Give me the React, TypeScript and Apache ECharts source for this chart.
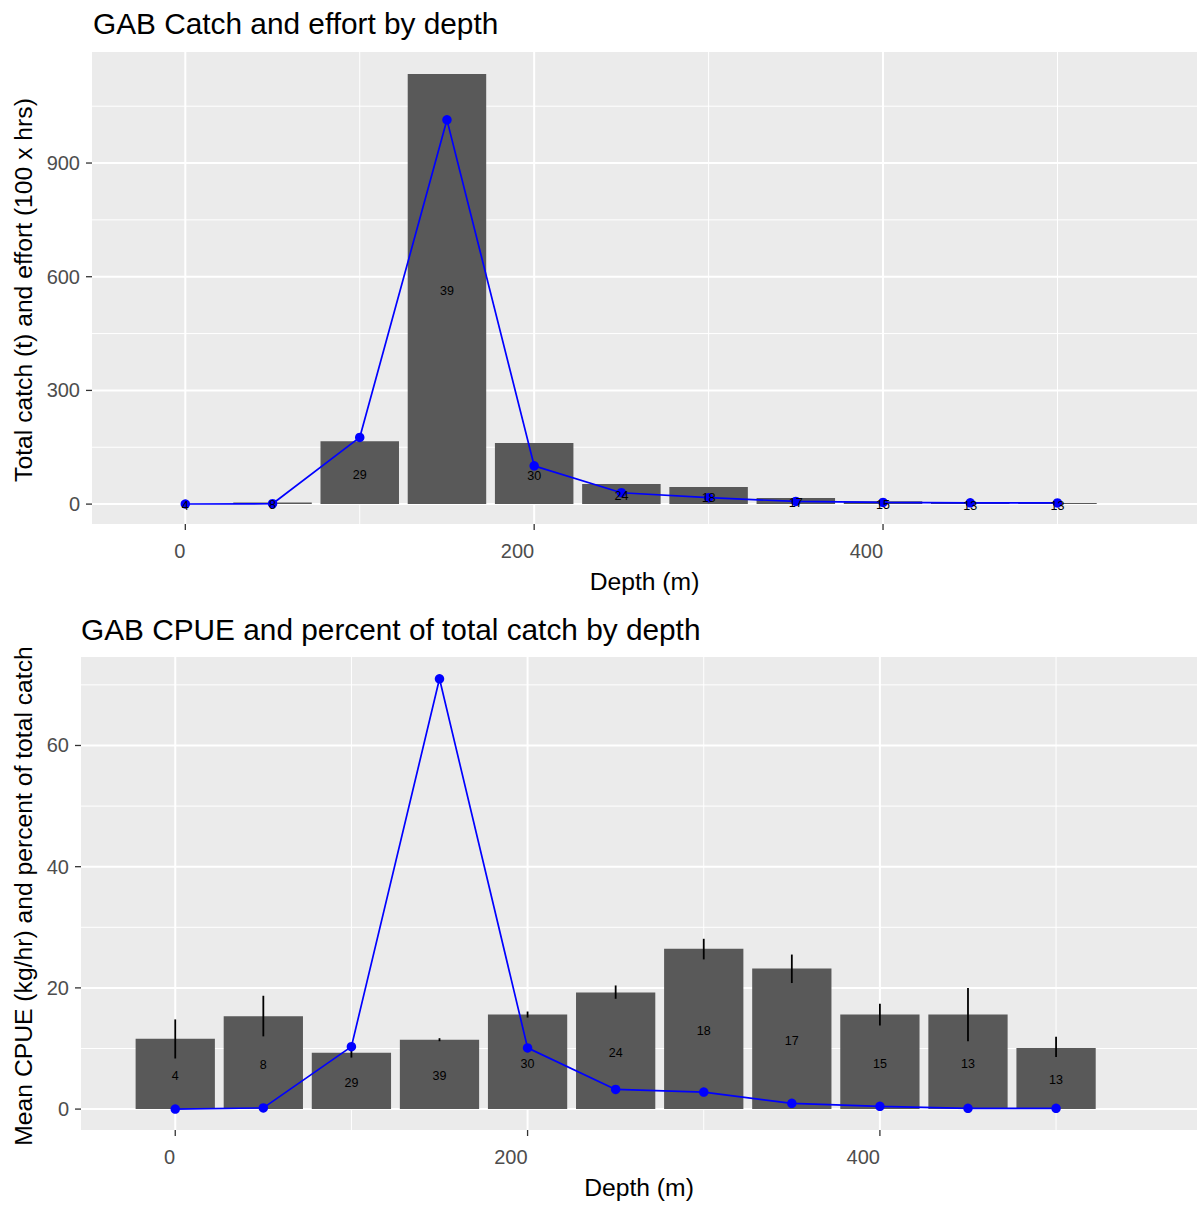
import React, { useEffect, useRef } from "react";
import * as echarts from "echarts";

// ---------------- data ----------------
const depths = [0, 50, 100, 150, 200, 250, 300, 350, 400, 450, 500];
const sampleSizes = [4, 8, 29, 39, 30, 24, 18, 17, 15, 13, 13];
// top panel
const totalCatch = [0.3, 4, 166, 1135, 161, 53, 45, 16, 7.5, 2.6, 2.6];
const effort = [0.3, 1, 176, 1014, 101, 30, 17, 7, 4.5, 3.5, 3];
// bottom panel
const meanCpue = [11.6, 15.3, 9.3, 11.45, 15.6, 19.25, 26.45, 23.2, 15.6, 15.6, 10.1];
const cpueLow = [8.35, 12.0, 8.5, 11.2, 15.1, 18.2, 24.7, 20.8, 13.8, 11.2, 8.6];
const cpueHigh = [14.8, 18.7, 10.1, 11.7, 16.1, 20.4, 28.1, 25.5, 17.4, 20.0, 11.95];
const pctCatch = [0, 0.2, 10.3, 71.0, 10.1, 3.25, 2.8, 0.95, 0.45, 0.12, 0.12];

// axis breaks
const xMajor = [0, 200, 400];
const xMinor = [100, 300, 500];
const yMajorTop = [0, 300, 600, 900];
const yMinorTop = [150, 450, 750, 1050];
const yMajorBottom = [0, 20, 40, 60];
const yMinorBottom = [10, 30, 50, 70];

const titleTop = "GAB Catch and effort by depth";
const titleBottom = "GAB CPUE and percent of total catch by depth";
const yTitleTop = "Total catch (t) and effort (100 x hrs)";
const yTitleBottom = "Mean CPUE (kg/hr) and percent of total catch";
const xTitle = "Depth (m)";

// ---------------- style ----------------
const FONT = "'Liberation Sans', Arial, Helvetica, sans-serif";
const BAR_W = 45;
const BAR_COLOR = "#595959";
const PANEL = "#EBEBEB";
const BLUE = "#0000FF";

function vLines(g: number, values: number[], width: number, z: number) {
  return {
    type: "custom",
    xAxisIndex: g,
    yAxisIndex: g,
    z,
    silent: true,
    data: values.map((v) => [v, 0]),
    renderItem: (params: any, api: any) => {
      const cs = params.coordSys;
      const p = api.coord([api.value(0), 0]);
      return {
        type: "line",
        shape: { x1: p[0], y1: cs.y, x2: p[0], y2: cs.y + cs.height },
        style: { stroke: "#FFFFFF", lineWidth: width },
      };
    },
  };
}

function hLines(g: number, values: number[], width: number, z: number) {
  return {
    type: "custom",
    xAxisIndex: g,
    yAxisIndex: g,
    z,
    silent: true,
    data: values.map((v) => [0, v]),
    renderItem: (params: any, api: any) => {
      const cs = params.coordSys;
      const p = api.coord([0, api.value(1)]);
      return {
        type: "line",
        shape: { x1: cs.x, y1: p[1], x2: cs.x + cs.width, y2: p[1] },
        style: { stroke: "#FFFFFF", lineWidth: width },
      };
    },
  };
}

function xTicks(g: number, values: number[]) {
  return {
    type: "custom",
    xAxisIndex: g,
    yAxisIndex: g,
    z: 1,
    silent: true,
    clip: false,
    data: values.map((v) => [v, 0]),
    renderItem: (params: any, api: any) => {
      const cs = params.coordSys;
      const p = api.coord([api.value(0), 0]);
      const yb = cs.y + cs.height;
      return {
        type: "line",
        shape: { x1: p[0], y1: yb, x2: p[0], y2: yb + 6 },
        style: { stroke: "#333333", lineWidth: 1.3 },
      };
    },
  };
}

function yTicks(g: number, values: number[]) {
  return {
    type: "custom",
    xAxisIndex: g,
    yAxisIndex: g,
    z: 1,
    silent: true,
    clip: false,
    data: values.map((v) => [0, v]),
    renderItem: (params: any, api: any) => {
      const cs = params.coordSys;
      const p = api.coord([0, api.value(1)]);
      return {
        type: "line",
        shape: { x1: cs.x - 6, y1: p[1], x2: cs.x, y2: p[1] },
        style: { stroke: "#333333", lineWidth: 1.3 },
      };
    },
  };
}

function bars(g: number, values: number[]) {
  return {
    type: "custom",
    xAxisIndex: g,
    yAxisIndex: g,
    z: 3,
    silent: true,
    data: depths.map((d, i) => [d, values[i]]),
    renderItem: (params: any, api: any) => {
      const x = api.value(0);
      const v = api.value(1);
      const p0 = api.coord([x - BAR_W / 2, v]);
      const p1 = api.coord([x + BAR_W / 2, 0]);
      return {
        type: "rect",
        shape: { x: p0[0], y: p0[1], width: p1[0] - p0[0], height: p1[1] - p0[1] },
        style: { fill: BAR_COLOR },
      };
    },
  };
}

function barLabels(g: number, values: number[]) {
  return {
    type: "custom",
    xAxisIndex: g,
    yAxisIndex: g,
    z: 10,
    silent: true,
    data: depths.map((d, i) => [d, values[i], sampleSizes[i]]),
    renderItem: (params: any, api: any) => {
      const p = api.coord([api.value(0), api.value(1) / 2]);
      return {
        type: "text",
        x: p[0],
        y: p[1] + 2,
        style: {
          text: String(api.value(2)),
          fill: "#000000",
          fontSize: 12.5,
          fontFamily: FONT,
          align: "center",
          verticalAlign: "middle",
        },
      };
    },
  };
}

function errorBars(g: number) {
  return {
    type: "custom",
    xAxisIndex: g,
    yAxisIndex: g,
    z: 4,
    silent: true,
    data: depths.map((d, i) => [d, cpueLow[i], cpueHigh[i]]),
    renderItem: (params: any, api: any) => {
      const a = api.coord([api.value(0), api.value(1)]);
      const b = api.coord([api.value(0), api.value(2)]);
      return {
        type: "line",
        shape: { x1: a[0], y1: a[1], x2: b[0], y2: b[1] },
        style: { stroke: "#000000", lineWidth: 1.8 },
      };
    },
  };
}

function blueLine(g: number, values: number[]) {
  return {
    type: "line",
    xAxisIndex: g,
    yAxisIndex: g,
    z: 6,
    silent: true,
    data: depths.map((d, i) => [d, values[i]]),
    symbol: "circle",
    symbolSize: 9.5,
    lineStyle: { color: BLUE, width: 1.7 },
    itemStyle: { color: BLUE },
  };
}

function xAxisCfg(g: number) {
  return {
    type: "value",
    gridIndex: g,
    min: -53.5,
    max: 580,
    splitNumber: 3,
    axisLine: { show: false },
    axisTick: { show: false },
    splitLine: { show: false },
    axisLabel: {
      show: true,
      align: "right",
      margin: 17,
      color: "#4D4D4D",
      fontSize: 20,
      fontFamily: FONT,
      showMinLabel: false,
      showMaxLabel: false,
    },
  };
}

function yAxisCfg(g: number, min: number, max: number) {
  return {
    type: "value",
    gridIndex: g,
    min,
    max,
    splitNumber: 4,
    axisLine: { show: false },
    axisTick: { show: false },
    splitLine: { show: false },
    axisLabel: {
      show: true,
      margin: 12,
      color: "#4D4D4D",
      fontSize: 20,
      fontFamily: FONT,
      showMinLabel: false,
      showMaxLabel: false,
    },
  };
}

function textEl(text: string, x: number, y: number, size: number, align: string, rot = 0) {
  return {
    type: "text",
    x,
    y,
    rotation: rot,
    silent: true,
    style: {
      text,
      fill: "#000000",
      fontSize: size,
      fontFamily: FONT,
      align,
      verticalAlign: "middle",
    },
  };
}

export default function App() {
  const ref = useRef<HTMLDivElement>(null);

  useEffect(() => {
    if (!ref.current) return;
    const chart = echarts.init(ref.current, undefined, { renderer: "svg" });
    const option: any = {
      animation: false,
      backgroundColor: "#FFFFFF",
      grid: [
        { left: 92, top: 52, width: 1105, height: 472, show: true, backgroundColor: PANEL, borderWidth: 0 },
        { left: 81, top: 657, width: 1116, height: 473, show: true, backgroundColor: PANEL, borderWidth: 0 },
      ],
      xAxis: [xAxisCfg(0), xAxisCfg(1)],
      yAxis: [yAxisCfg(0, -52.5, 1193), yAxisCfg(1, -3.45, 74.6)],
      graphic: [
        textEl(titleTop, 93, 23, 29.8, "left"),
        textEl(titleBottom, 81, 629, 29.8, "left"),
        textEl(xTitle, 644.5, 581, 24.7, "center"),
        textEl(xTitle, 639, 1187, 24.7, "center"),
        textEl(yTitleTop, 23, 290, 24.7, "center", Math.PI / 2),
        textEl(yTitleBottom, 23, 896, 24.7, "center", Math.PI / 2),
      ],
      series: [
        // top panel
        hLines(0, yMinorTop, 1, 1),
        vLines(0, xMinor, 1, 1),
        hLines(0, yMajorTop, 2, 2),
        vLines(0, xMajor, 2, 2),
        xTicks(0, xMajor),
        yTicks(0, yMajorTop),
        bars(0, totalCatch),
        blueLine(0, effort),
        barLabels(0, totalCatch),
        // bottom panel
        hLines(1, yMinorBottom, 1, 1),
        vLines(1, xMinor, 1, 1),
        hLines(1, yMajorBottom, 2, 2),
        vLines(1, xMajor, 2, 2),
        xTicks(1, xMajor),
        yTicks(1, yMajorBottom),
        bars(1, meanCpue),
        errorBars(1),
        blueLine(1, pctCatch),
        barLabels(1, meanCpue),
      ],
    };
    chart.setOption(option);
    return () => {
      chart.dispose();
    };
  }, []);

  return (
    <div
      ref={ref}
      style={{ position: "absolute", left: 0, top: 0, width: 1198, height: 1205 }}
    />
  );
}
